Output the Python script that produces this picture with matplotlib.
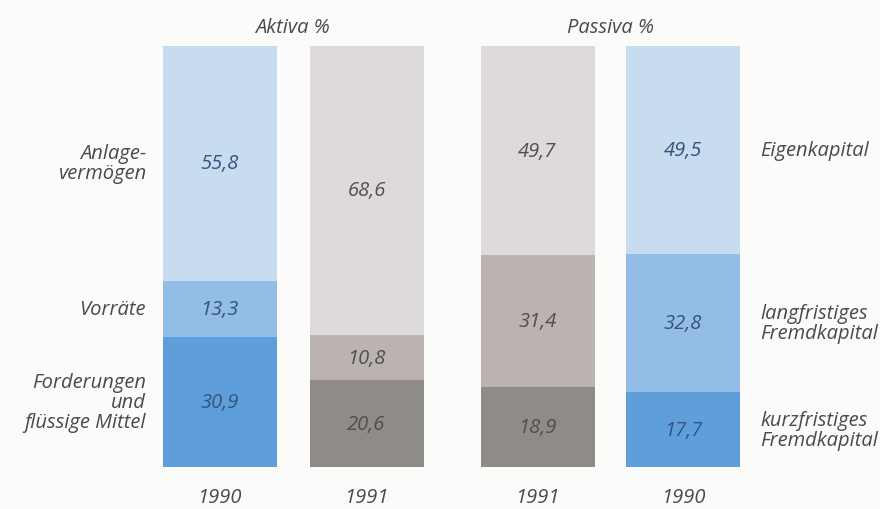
import matplotlib
matplotlib.use("Agg")
import matplotlib.pyplot as plt
from matplotlib.patches import Rectangle

# ---- data ----
groups = ["Aktiva %", "Passiva %"]
bar_years = ["1990", "1991", "1991", "1990"]
aktiva_labels = ["Forderungen\nund\nflüssige Mittel", "Vorräte", "Anlage-\nvermögen"]
passiva_labels = ["kurzfristiges\nFremdkapital", "langfristiges\nFremdkapital", "Eigenkapital"]
# bottom -> top segments per bar
aktiva_1990 = [30.9, 13.3, 55.8]
aktiva_1991 = [20.6, 10.8, 68.6]
passiva_1991 = [18.9, 31.4, 49.7]
passiva_1990 = [17.7, 32.8, 49.5]
bar_values = [aktiva_1990, aktiva_1991, passiva_1991, passiva_1990]

# ---- styling / layout ----
blue_cols = ["#5e9edb", "#93bde6", "#c8dcf0"]
grey_cols = ["#8f8b89", "#bab3b1", "#dedada"]
bar_colors = [blue_cols, grey_cols, grey_cols, blue_cols]
txt_cols = ["#33557d", "#4f4f4f", "#4f4f4f", "#33557d"]
x_pos = [219.5, 366.5, 537.5, 683]
bar_w = 114
FONT = ["Open Sans", "DejaVu Sans"]

W, H = 880, 510
fig = plt.figure(figsize=(W / 100, H / 100), dpi=100)
fig.patch.set_facecolor("#fbfbfa")
ax = fig.add_axes([0, 0, 1, 1])
ax.set_facecolor("#fbfbfa")
ax.set_xlim(0, W)
px = 4.21  # pixels per percent
ax.set_ylim(-(H - 468) / px, 100 + 47 / px)
ax.axis("off")

fs = 14.5
for i, vals in enumerate(bar_values):
    bottom = 0
    for j, v in enumerate(vals):
        ax.add_patch(Rectangle((x_pos[i] - bar_w / 2, bottom), bar_w, v,
                               facecolor=bar_colors[i][j], edgecolor="none"))
        ax.text(x_pos[i], bottom + v / 2, f"{v:.1f}".replace(".", ","),
                ha="center", va="center", fontsize=fs, style="italic",
                color=txt_cols[i], family=FONT)
        bottom += v
    ax.text(x_pos[i], -7.2, bar_years[i], ha="center", va="center",
            fontsize=fs, style="italic", color="#4a4a4a", family=FONT)

# group titles
ax.text((x_pos[0] + x_pos[1]) / 2, 100 + 19 / px, groups[0], ha="center",
        va="center", fontsize=fs, style="italic", color="#4a4a4a", family=FONT)
ax.text((x_pos[2] + x_pos[3]) / 2, 100 + 19 / px, groups[1], ha="center",
        va="center", fontsize=fs, style="italic", color="#4a4a4a", family=FONT)

# side labels
bottom = 0
for lab, v in zip(aktiva_labels, aktiva_1990):
    ax.text(146, bottom + v / 2, lab, ha="right", va="center", fontsize=fs,
            style="italic", color="#4a4a4a", family=FONT, linespacing=1.0,
            multialignment="right")
    bottom += v
bottom = 0
for lab, v in zip(passiva_labels, passiva_1990):
    ax.text(760, bottom + v / 2, lab, ha="left", va="center", fontsize=fs,
            style="italic", color="#4a4a4a", family=FONT, linespacing=1.0,
            multialignment="left")
    bottom += v

fig.savefig("out.png", dpi=100, facecolor=fig.get_facecolor())
